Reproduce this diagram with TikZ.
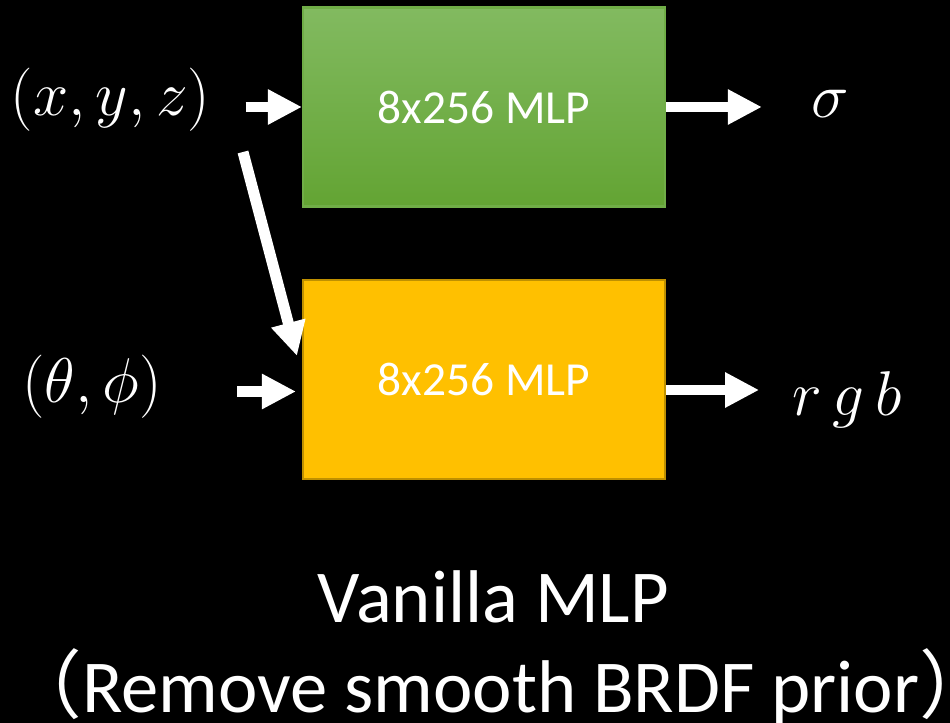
\documentclass[tikz,border=0pt]{standalone}
\usepackage{fix-cm}
\usepackage[no-math]{fontspec}
\setmainfont{Carlito}
\newfontfamily\cjk{Noto Sans CJK SC}
\usetikzlibrary{arrows.meta,positioning}
\definecolor{geotop}{HTML}{82BA60}
\definecolor{geobot}{HTML}{63A433}
\definecolor{geoline}{HTML}{70AD47}
\definecolor{appfill}{HTML}{FFC000}
\definecolor{appline}{HTML}{BF9000}

\begin{document}
\begin{tikzpicture}[
    x=0.02cm, y=-0.02cm,
    mlp/.style={line width=1.2pt, minimum width=7.24cm, minimum height=3.98cm,
                font=\fontsize{27}{32}\selectfont, text=white, inner sep=0pt},
    var/.style={text=white, inner sep=0pt, anchor=base, font=\fontsize{36}{42}\selectfont},
    title/.style={text=white, inner sep=0pt, anchor=base, font=\fontsize{42.5}{50}\selectfont},
    flow/.style={-{Triangle[length=6.8mm, width=6.6mm]}, line width=2.2mm, draw=white}
]
\fill[black] (0,0) rectangle (950,723);
\useasboundingbox (0,0) rectangle (950,723);

\node[mlp, draw=geoline, top color=geotop, bottom color=geobot] (geo) at (484,107) {8x256 MLP};
\node[mlp, draw=appline, fill=appfill] (app) at (484,379.5) {8x256 MLP};

\node[var] (xyz) at (110.5,115) {$(x,y,z)$};
\node[var] (view) at (92,402) {$(\theta,\phi)$};
\node[var] (sigma) at (830,117) {$\sigma$};
\node[var] (rgb) at (847,415) {$r\,g\,b$};

\coordinate (split) at (243,152);
\coordinate (vin) at (237,391.5);

\draw[flow, shorten <=7mm] (xyz.east |- geo.west) -- (geo.west);
\draw[flow, shorten >=9.8mm] (geo.east) -- (sigma.west |- geo.east);
\draw[flow] (split) -- ([shift={(-5,77)}]app.north west);
\draw[flow, shorten >=1.2mm] (vin) -- (vin -| app.west);
\draw[flow, shorten >=6.6mm] ([yshift=-2.1mm]app.east) -- ([yshift=-2.1mm]app.east -| rgb.west);

\node[title] (name) at (493.5,622) {Vanilla MLP};
\node[title] (note) at (501,712) {{\cjk （}Remove smooth BRDF prior{\cjk ）}};
\end{tikzpicture}
\end{document}
